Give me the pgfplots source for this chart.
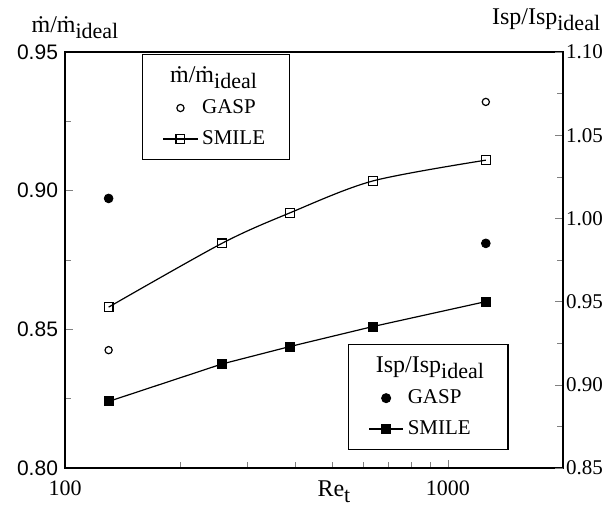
\documentclass[border=0pt]{standalone}
\usepackage{pgfplots}
\pgfplotsset{compat=1.18}
\usepackage{fontspec}
\setmainfont{Liberation Serif}
\setsansfont{Liberation Sans}
\newcommand\low[1]{\raisebox{-0.55ex}{\fontsize{11}{12}\selectfont #1}}
\newcommand\mdot{ṁ}
\newcommand\labfont{\fontsize{12}{14}\selectfont}
\begin{document}
\begin{tikzpicture}[x=1pt,y=1pt]
\useasboundingbox (-32.5,-20) rectangle (271.5,234);
\begin{axis}[
  scale only axis, width=249pt, height=208pt,
  at={(0,0)}, anchor=south west,
  xmode=log, xmin=100, xmax=2000,
  ymin=0.80, ymax=0.95,
  xtick={100,1000}, xticklabels={100,1000},
  ytick={0.80,0.85,0.90,0.95}, minor y tick num=1,
  xtick pos=left, ytick pos=left,
  tick align=inside,
  axis line style={line width=0.9pt},
  major tick length=4pt, minor tick length=3pt,
  /pgf/number format/assume math mode=true,
  xticklabel style={font=\fontsize{11}{12}\selectfont, yshift=-3pt},
  yticklabel style={font=\sffamily\fontsize{10.5}{12}\selectfont,
    /pgf/number format/fixed, /pgf/number format/fixed zerofill,
    /pgf/number format/precision=2},
  legend style={at={(0.155,0.995)}, anchor=north west, draw=black, line width=0.6pt,
    font=\fontsize{10.5}{12}\selectfont, row sep=3pt, inner xsep=10pt, inner ysep=4pt,
    legend cell align=left},
  clip=false,
]
\addlegendimage{empty legend}
\addlegendentry{\hspace*{-16pt}{\labfont\mdot/\mdot\low{ideal}}}
\addplot[only marks, mark=o, mark size=1.8pt, line width=0.6pt, black] coordinates {
  (130,0.8425) (1257,0.932)};
\addlegendentry{GASP}
\addplot[black, line width=0.6pt, smooth, tension=0.5, mark=square, mark size=2.2pt, mark options={solid, line width=0.6pt}] coordinates {
  (130,0.858) (257,0.881) (387,0.892) (637,0.9035) (1257,0.911)};
\addlegendentry{SMILE}
\node[font=\labfont] at (axis description cs:0.02,1.058) {\mdot/\mdot\low{ideal}};
\node[font=\labfont] at (axis description cs:0.966,1.077) {Isp/Isp\low{ideal}};
\node[font=\labfont] at (axis description cs:0.54,-0.058) {Re\low{t}};
\end{axis}
\begin{axis}[
  scale only axis, width=249pt, height=208pt,
  at={(0,0)}, anchor=south west,
  xmode=log, xmin=100, xmax=2000,
  ymin=0.85, ymax=1.10,
  axis x line=none, axis y line*=right,
  ytick={0.85,0.90,0.95,1.00,1.05,1.10}, minor y tick num=1,
  tick align=inside,
  axis line style={line width=0.9pt},
  major tick length=4pt, minor tick length=3pt,
  /pgf/number format/assume math mode=true,
  yticklabel style={font=\fontsize{10.5}{12}\selectfont, xshift=-2pt,
    /pgf/number format/fixed, /pgf/number format/fixed zerofill,
    /pgf/number format/precision=2},
  legend style={at={(0.568,0.043)}, anchor=south west, draw=black, line width=0.6pt,
    font=\fontsize{10.5}{12}\selectfont, row sep=3pt, inner xsep=10pt, inner ysep=4pt,
    legend cell align=left},
  clip=false,
]
\addlegendimage{empty legend}
\addlegendentry{\hspace*{-16pt}{\labfont Isp/Isp\low{ideal}}}
\addplot[only marks, mark=*, mark size=2.2pt, black] coordinates {
  (130,1.012) (1257,0.985)};
\addlegendentry{GASP}
\addplot[black, line width=0.6pt, mark=square*, mark size=2.2pt, mark options={solid}] coordinates {
  (130,0.890) (257,0.9125) (387,0.923) (637,0.935) (1257,0.950)};
\addlegendentry{SMILE}
\end{axis}
\end{tikzpicture}
\end{document}
